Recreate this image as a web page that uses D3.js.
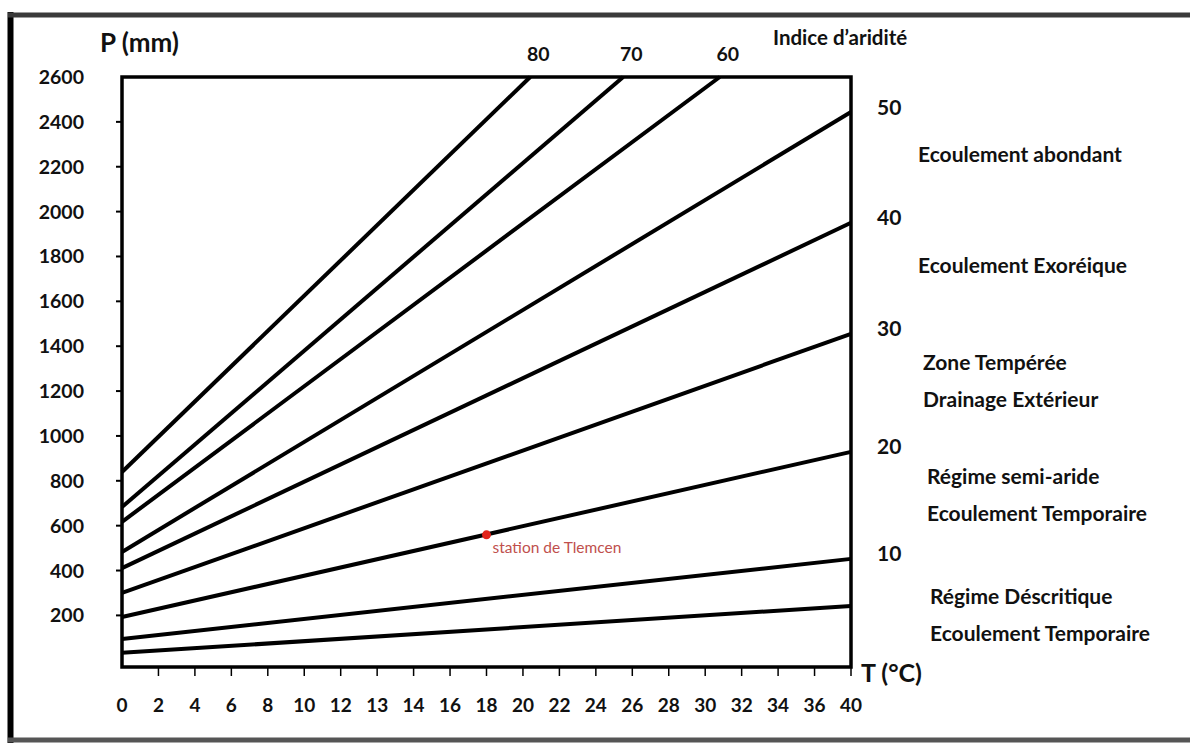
<!DOCTYPE html>
<html>
<head>
<meta charset="utf-8">
<script src="https://cdn.jsdelivr.net/npm/d3@7"></script>
<style>
  html, body { margin: 0; padding: 0; background: #fff; }
  svg { display: block; }
  text { font-family: Lato, "Open Sans", "Liberation Sans", sans-serif; font-weight: 700; fill: #111; }
</style>
</head>
<body>
<svg id="chart" width="1190" height="743"></svg>
<script>
// ---- data ----
const aridityIndex = [80, 70, 60, 50, 40, 30, 20, 10, 5];
const pAtZero      = [839, 683, 617, 483, 411, 300, 193, 95, 33];     // P (mm) at T = 0
const tAtEnd       = [22.4, 27.5, 32.8, 40, 40, 40, 40, 40, 40];     // T where each line ends
const pAtEnd       = [2600, 2600, 2600, 2444, 1950, 1455, 929, 452, 242];
const xTickLabels  = ["0","2","4","6","8","10","12","13","14","16","18","20","22","24","26","28","30","32","34","36","40"];
const yTickValues  = [200, 400, 600, 800, 1000, 1200, 1400, 1600, 1800, 2000, 2200, 2400, 2600];
const topLabels    = [80, 70, 60];
const rightLabels  = [50, 40, 30, 20, 10];
const zoneTexts    = [
  ["Ecoulement abondant"],
  ["Ecoulement Exoréique"],
  ["Zone Tempérée", "Drainage Extérieur"],
  ["Régime semi-aride", "Ecoulement Temporaire"],
  ["Régime Déscritique", "Ecoulement Temporaire"]
];
const zoneCenterP  = [2253, 1762, 1246, 738, 204];
const station      = { name: "station de Tlemcen", T: 20.0, P: 559 };

// ---- layout ----
const svg = d3.select("#chart");
const L = 122, R = 851, T0 = 77, B = 667;
const x = d3.scaleLinear().domain([0, 40]).range([L, R]);
const xPoint = d3.scalePoint().domain(xTickLabels).range([L, R]);
const y = d3.scaleLinear().domain([-30, 2600]).range([B, T0]);

svg.append("rect").attr("width", 1190).attr("height", 743).attr("fill", "#fff");

// outer screenshot border (left, top, bottom)
svg.append("line").attr("x1", 10.5).attr("x2", 10.5).attr("y1", 12).attr("y2", 743)
  .attr("stroke", "#000").attr("stroke-width", 6);
svg.append("line").attr("x1", 8).attr("x2", 1190).attr("y1", 15).attr("y2", 15)
  .attr("stroke", "#3a3a3a").attr("stroke-width", 5);
svg.append("line").attr("x1", 8).attr("x2", 1190).attr("y1", 740).attr("y2", 740)
  .attr("stroke", "#555").attr("stroke-width", 5);

// aridity lines
const lineGen = d3.line().x(d => x(d[0])).y(d => y(d[1]));
const lines = aridityIndex.map((I, i) => ({ I, pts: [[0, pAtZero[i]], [tAtEnd[i], pAtEnd[i]]] }));
svg.append("g").selectAll("path").data(lines).join("path")
  .attr("d", d => lineGen(d.pts))
  .attr("fill", "none").attr("stroke", "#000").attr("stroke-width", 4)
  .attr("stroke-linecap", "butt");

// plot frame
svg.append("rect").attr("x", L).attr("y", T0).attr("width", R - L).attr("height", B - T0)
  .attr("fill", "none").attr("stroke", "#000").attr("stroke-width", 3.5);

// y axis ticks + labels
const yAxis = svg.append("g");
yAxis.selectAll("line").data(yTickValues.filter(v => v < 2600)).join("line")
  .attr("x1", L - 6).attr("x2", L).attr("y1", d => y(d)).attr("y2", d => y(d))
  .attr("stroke", "#000").attr("stroke-width", 2);
yAxis.selectAll("text").data(yTickValues).join("text")
  .attr("x", 84).attr("y", d => y(d)).attr("dy", "0.36em")
  .attr("text-anchor", "end").attr("font-size", 19.5).text(d => d);

// x axis ticks + labels
const xAxis = svg.append("g");
xAxis.selectAll("line").data(xTickLabels.slice(1)).join("line")
  .attr("x1", d => xPoint(d)).attr("x2", d => xPoint(d)).attr("y1", B).attr("y2", B + 9)
  .attr("stroke", "#000").attr("stroke-width", 1.5);
xAxis.selectAll("text").data(xTickLabels).join("text")
  .attr("x", d => xPoint(d)).attr("y", 705).attr("dy", "0.36em")
  .attr("text-anchor", "middle").attr("font-size", 19).text(d => d);

// axis titles
svg.append("text").attr("x", 100).attr("y", 52).attr("font-size", 26).text("P (mm)");
svg.append("text").attr("x", 861).attr("y", 682).attr("font-size", 25).text("T (°C)");
svg.append("text").attr("x", 773).attr("y", 45).attr("font-size", 20.5).text("Indice d’aridité");

// top labels (80, 70, 60)
svg.append("g").selectAll("text").data(topLabels).join("text")
  .attr("x", d => x(tAtEnd[aridityIndex.indexOf(d)]) + 8).attr("y", 61)
  .attr("text-anchor", "middle").attr("font-size", 19.5).text(d => d);

// right labels (50 ... 10)
svg.append("g").selectAll("text").data(rightLabels).join("text")
  .attr("x", 877).attr("y", d => y(pAtEnd[aridityIndex.indexOf(d)]) - 5).attr("dy", "0.36em")
  .attr("font-size", 21).text(d => d);

// zone descriptions
const zg = svg.append("g");
zoneTexts.forEach((lines, i) => {
  const cy = y(zoneCenterP[i]);
  const n = lines.length;
  lines.forEach((t, j) => {
    zg.append("text")
      .attr("x", n === 1 ? 918 : (i === 2 ? 923 : (i === 3 ? 927 : 930)))
      .attr("y", cy + (j - (n - 1) / 2) * 37).attr("dy", "0.36em")
      .attr("font-size", 21).text(t);
  });
});

// station
svg.append("circle").attr("cx", x(station.T)).attr("cy", y(station.P)).attr("r", 4.5).attr("fill", "#e2231a");
svg.append("text").attr("x", x(station.T) + 6).attr("y", y(station.P) + 18)
  .attr("font-size", 15.5).style("font-weight", 400).style("fill", "#c0504d")
  .text(station.name);
</script>
</body>
</html>
